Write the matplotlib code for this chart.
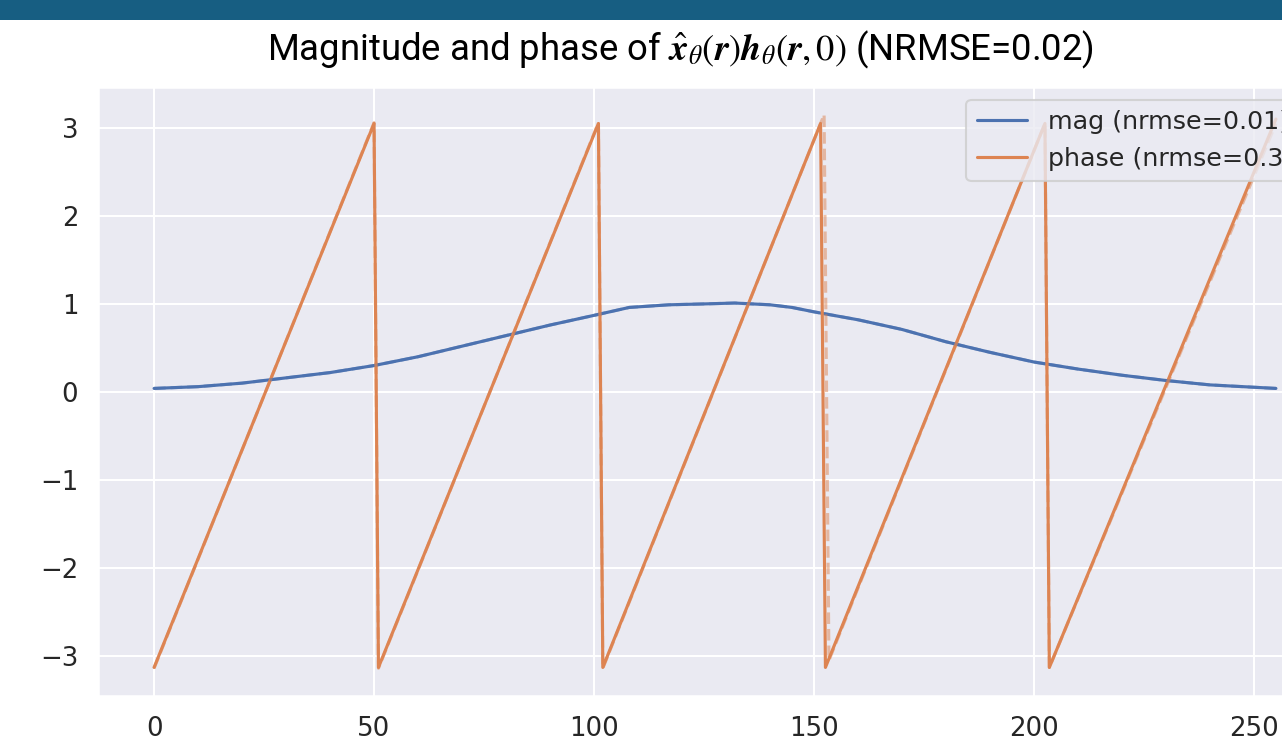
import matplotlib
matplotlib.use("Agg")
import matplotlib.pyplot as plt
import seaborn as sns
import numpy as np
from matplotlib.patches import Rectangle

# ---- data ----
mag_x = [0, 10, 20, 25, 30, 40, 50, 60, 70, 80, 90, 100, 108, 117, 125, 132,
         140, 145, 150, 160, 170, 180, 190, 200, 210, 220, 230, 240, 255]
mag_pred = [0.04, 0.06, 0.10, 0.13, 0.16, 0.22, 0.30, 0.40, 0.52, 0.64, 0.76,
            0.87, 0.96, 0.99, 1.00, 1.01, 0.99, 0.96, 0.91, 0.82, 0.71, 0.57,
            0.45, 0.34, 0.26, 0.19, 0.13, 0.08, 0.04]
mag_true = mag_pred

phase_x_pred = [0, 50, 51, 101, 102, 151.5, 152.6, 202.5, 203.5, 255]
phase_pred = [-3.13, 3.05, -3.13, 3.05, -3.13, 3.05, -3.13, 3.05, -3.13, 3.10]
phase_x_true = [0, 50, 51, 101, 102, 152.3, 153.4, 202.5, 203.5, 255]
phase_true = [-3.14, 3.06, -3.14, 3.06, -3.14, 3.15, -3.05, 3.05, -3.13, 3.05]

mag_label = "mag (nrmse=0.01)"
phase_label = "phase (nrmse=0.34)"
title_text = r"Magnitude and phase of $\hat{\boldsymbol{x}}_{\theta}(\boldsymbol{r})\boldsymbol{h}_{\theta}(\boldsymbol{r},0)$ (NRMSE=0.02)"

sns.set_theme(style="darkgrid")
plt.rcParams["mathtext.fontset"] = "stix"

fig = plt.figure(figsize=(1282 / 150, 744 / 150), dpi=150)
fig.patch.set_facecolor("white")

# slide header band
fig.add_artist(Rectangle((0, 1 - 20 / 744), 1, 20 / 744, transform=fig.transFigure,
                         facecolor="#175e82", edgecolor="none", zorder=0))

ax = fig.add_axes([98 / 1282, 48 / 744, 1234 / 1282, 609 / 744])
blue, orange = sns.color_palette("deep")[0], sns.color_palette("deep")[1]

ax.plot(mag_x, mag_pred, color=blue, lw=1.5, label=mag_label)
ax.plot(phase_x_pred, phase_pred, color=orange, lw=1.5, label=phase_label)
ax.plot(mag_x, mag_true, color=blue, lw=1.5, ls="--", alpha=0.5)
ax.plot(phase_x_true, phase_true, color=orange, lw=1.5, ls="--", alpha=0.5)

ax.set_xticks([0, 50, 100, 150, 200, 250])
ax.set_yticks([-3, -2, -1, 0, 1, 2, 3])
ax.tick_params(labelsize=12.5)
ax.legend(loc="upper right", fontsize=12.2)

fig.text(0.531, 1 - 50 / 744, title_text, ha="center", va="center",
         fontsize=17.5, family="Roboto", color="black")

fig.savefig("out.png", dpi=150)
